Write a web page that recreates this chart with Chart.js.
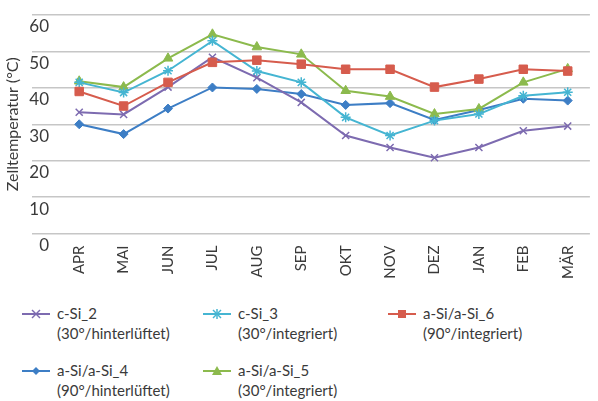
<!DOCTYPE html>
<html lang="de">
<head>
  <meta charset="UTF-8">
  <title>Zelltemperatur</title>
  <script src="https://cdn.jsdelivr.net/npm/chart.js"></script>
  <style>
    html, body { margin: 0; padding: 0; background: #fff; }
    #wrap { position: relative; width: 598px; height: 401px; overflow: hidden; font-family: Lato, sans-serif; color: #3a3a3a; }
    #chartBox { position: absolute; left: 0; top: 0; width: 598px; height: 295px; }
    .leg { position: absolute; font-size: 15px; line-height: 20px; white-space: nowrap; }
    .leg svg { position: absolute; left: 0; top: 1px; }
    .leg span { position: absolute; left: 35px; top: 0; }
  </style>
</head>
<body>
  <div id="wrap">
    <div id="chartBox"><canvas id="tempChart"></canvas></div>
    <div id="legend"></div>
  </div>
  <script>
    const months = ['APR', 'MAI', 'JUN', 'JUL', 'AUG', 'SEP', 'OKT', 'NOV', 'DEZ', 'JAN', 'FEB', 'MÄR'];
    const yTicks = [0, 10, 20, 30, 40, 50, 60];

    const cSi2 = [33.3, 32.7, 40.2, 48.4, 42.8, 36.0, 26.9, 23.6, 20.8, 23.6, 28.2, 29.5];
    const cSi3 = [41.5, 38.7, 44.7, 52.9, 44.6, 41.5, 31.9, 26.9, 31.0, 32.8, 37.8, 38.8];
    const aSi6 = [39.0, 35.0, 41.5, 47.0, 47.6, 46.5, 45.1, 45.1, 40.2, 42.4, 45.1, 44.6];
    const aSi4 = [30.0, 27.3, 34.3, 40.1, 39.7, 38.3, 35.3, 35.8, 31.2, 33.9, 37.0, 36.5];
    const aSi5 = [41.8, 40.2, 48.1, 54.7, 51.2, 49.2, 39.2, 37.6, 32.8, 34.2, 41.5, 45.2];

    const series = [
      { label: 'c-Si_2', sub: '(30°/hinterlüftet)', data: cSi2, color: '#7d6bb0', point: 'crossRot', radius: 5 },
      { label: 'c-Si_3', sub: '(30°/integriert)', data: cSi3, color: '#45b5d2', point: 'star', radius: 5 },
      { label: 'a-Si/a-Si_6', sub: '(90°/integriert)', data: aSi6, color: '#d65c4d', point: 'rect', radius: 6 },
      { label: 'a-Si/a-Si_4', sub: '(90°/hinterlüftet)', data: aSi4, color: '#3d7ec5', point: 'rectRot', radius: 4.5 },
      { label: 'a-Si/a-Si_5', sub: '(30°/integriert)', data: aSi5, color: '#8cba4d', point: 'triangle', radius: 5.5 }
    ];

    // draw order: red, cyan, green, purple, blue on top roughly like the original
    const drawOrder = [2, 1, 4, 0, 3];

    const ctx = document.getElementById('tempChart').getContext('2d');
    const chart = new Chart(ctx, {
      type: 'line',
      data: {
        labels: months,
        datasets: drawOrder.map(i => {
          const s = series[i];
          return {
            label: s.label,
            data: s.data,
            borderColor: s.color,
            backgroundColor: s.color,
            borderWidth: 2,
            pointStyle: s.point,
            pointRadius: s.radius,
            pointBorderWidth: s.point === 'crossRot' || s.point === 'star' ? 1.5 : 1,
            tension: 0,
            fill: false
          };
        })
      },
      options: {
        responsive: true,
        maintainAspectRatio: false,
        animation: false,
        layout: { padding: { top: 15, right: 0, left: 0, bottom: 0 } },
        plugins: {
          legend: { display: false },
          tooltip: { enabled: false }
        },
        scales: {
          x: {
            offset: true,
            grid: { display: false, drawTicks: false },
            border: { display: false },
            ticks: {
              autoSkip: false,
              minRotation: 90,
              maxRotation: 90,
              padding: 12,
              color: '#3a3a3a',
              font: { family: 'Lato', size: 15 }
            },
            afterFit: function (scale) { scale.height = 61.5; }
          },
          y: {
            min: 0,
            max: 60,
            afterBuildTicks: function (scale) {
              scale.ticks = yTicks.map(v => ({ value: v }));
            },
            grid: { color: '#c6c6c6', lineWidth: 1.5, drawTicks: true, tickLength: 25, tickColor: '#c6c6c6' },
            border: { display: false },
            ticks: {
              padding: -17,
              labelOffset: 12,
              color: '#3a3a3a',
              font: { family: 'Lato', size: 17 }
            },
            title: {
              display: true,
              text: 'Zelltemperatur (°C)',
              color: '#3a3a3a',
              font: { family: 'Lato', size: 16 },
              padding: { top: 3, bottom: 0 }
            },
            afterFit: function (scale) { scale.width = 57; }
          }
        }
      }
    });

    // legend in three columns with two-line labels
    const legendPos = [
      { x: 22, y: 303 }, { x: 203, y: 303 }, { x: 388, y: 303 },
      { x: 22, y: 360 }, { x: 203, y: 360 }
    ];
    const markerSvg = {
      crossRot: c => `<line x1="10" y1="6" x2="18" y2="14" stroke="${c}" stroke-width="1.5"/><line x1="18" y1="6" x2="10" y2="14" stroke="${c}" stroke-width="1.5"/>`,
      star: c => `<line x1="10" y1="6" x2="18" y2="14" stroke="${c}" stroke-width="1.5"/><line x1="18" y1="6" x2="10" y2="14" stroke="${c}" stroke-width="1.5"/><line x1="14" y1="5" x2="14" y2="15" stroke="${c}" stroke-width="1.5"/>`,
      rect: c => `<rect x="10" y="6" width="8" height="8" fill="${c}"/>`,
      rectRot: c => `<polygon points="14,6 18,10 14,14 10,10" fill="${c}"/>`,
      triangle: c => `<polygon points="14,5 19,14 9,14" fill="${c}"/>`
    };
    const legendEl = document.getElementById('legend');
    series.forEach((s, i) => {
      const p = legendPos[i];
      const div = document.createElement('div');
      div.className = 'leg';
      div.style.left = p.x + 'px';
      div.style.top = p.y + 'px';
      div.innerHTML =
        `<svg width="28" height="20"><line x1="0" y1="10" x2="28" y2="10" stroke="${s.color}" stroke-width="2"/>${markerSvg[s.point](s.color)}</svg>` +
        `<span>${s.label}<br>${s.sub}</span>`;
      legendEl.appendChild(div);
    });
  </script>
</body>
</html>
